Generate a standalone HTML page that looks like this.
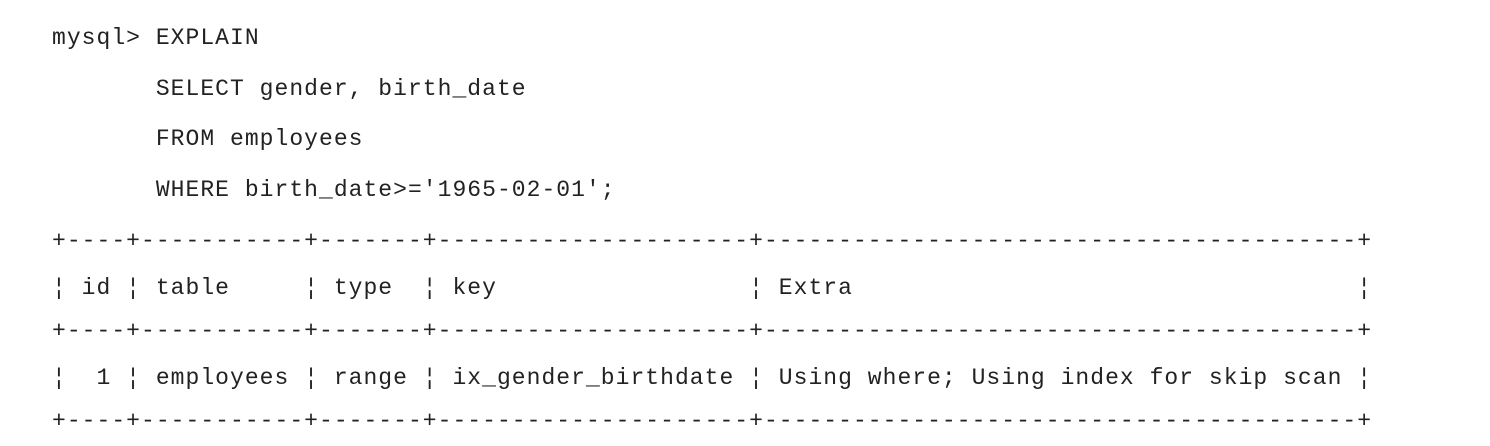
<!DOCTYPE html>
<html><head><meta charset="utf-8"><style>
html,body{margin:0;padding:0;background:#fff;width:1490px;height:446px;overflow:hidden}
.l{position:absolute;left:52px;height:30px;line-height:30px;white-space:pre;font-family:"Liberation Mono",monospace;font-size:23px;letter-spacing:1.03px;color:#222}
</style></head><body>
<div class="l" style="top:23px">mysql&gt; EXPLAIN</div>
<div class="l" style="top:74px">       SELECT gender, birth_date</div>
<div class="l" style="top:124px">       FROM employees</div>
<div class="l" style="top:175px">       WHERE birth_date&gt;='1965-02-01';</div>
<div class="l" style="top:226px">+----+-----------+-------+---------------------+----------------------------------------+</div>
<div class="l" style="top:273px">¦ id ¦ table     ¦ type  ¦ key                 ¦ Extra                                  ¦</div>
<div class="l" style="top:316px">+----+-----------+-------+---------------------+----------------------------------------+</div>
<div class="l" style="top:363px">¦  1 ¦ employees ¦ range ¦ ix_gender_birthdate ¦ Using where; Using index for skip scan ¦</div>
<div class="l" style="top:406px">+----+-----------+-------+---------------------+----------------------------------------+</div>
</body></html>
